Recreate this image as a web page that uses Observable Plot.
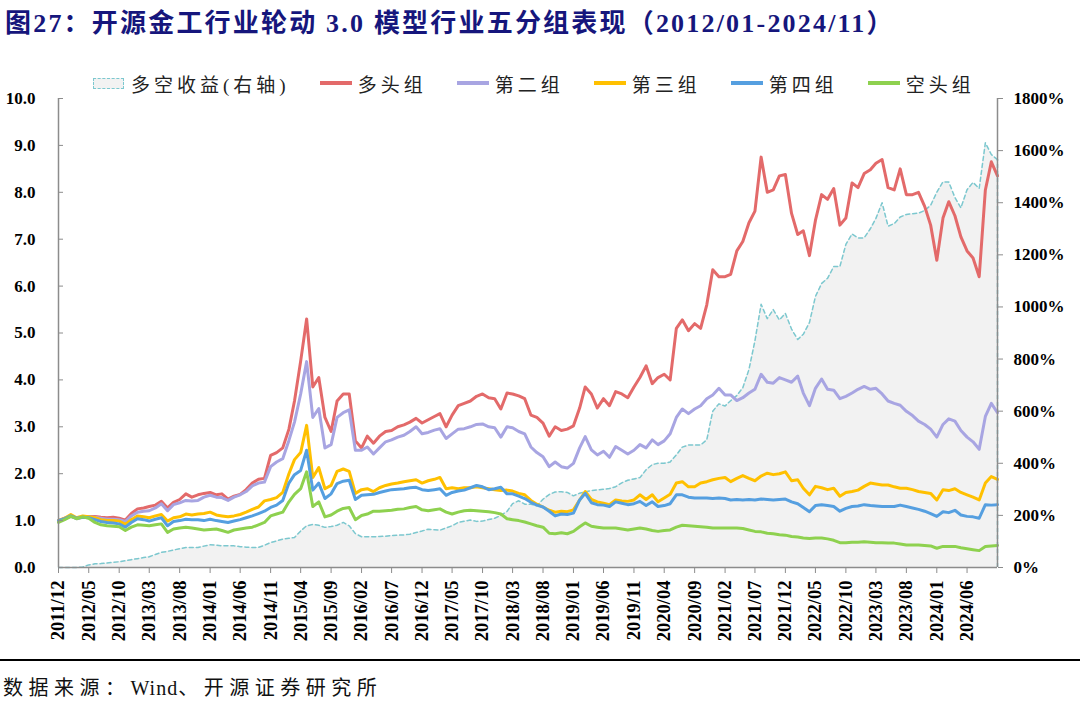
<!DOCTYPE html>
<html><head><meta charset="utf-8">
<script src="https://cdn.jsdelivr.net/npm/d3@7"></script>
<script src="https://cdn.jsdelivr.net/npm/@observablehq/plot@0.6"></script>
<style>
body{margin:0;background:#fff;width:1080px;height:703px;position:relative;overflow:hidden;font-family:"Liberation Serif","Noto Sans CJK SC",serif;}
#title{position:absolute;left:5px;top:2px;font-size:26px;letter-spacing:2.2px;font-weight:bold;color:#16167c;white-space:nowrap;}
#legend{position:absolute;left:93px;top:70px;height:26px;display:flex;align-items:center;font-family:"Liberation Serif","Noto Sans CJK SC",serif;font-size:19px;letter-spacing:4px;color:#222;white-space:nowrap;}
.item{display:flex;align-items:center;margin-right:30px;}
.sw{width:32px;height:4px;margin-right:6px;}
.swd{width:29px;height:9px;margin-right:7px;background:#f2f2f2;border:1.5px dashed #7cc8cf;}
#chart{position:absolute;left:0;top:40px;}
#rule{position:absolute;left:0;top:659px;width:1080px;height:2px;background:#000;}
#source{position:absolute;left:3px;top:672px;font-size:20px;letter-spacing:5.5px;color:#111;white-space:nowrap;}
#source .en{letter-spacing:1px;}
</style></head>
<body>
<div id="title">图27：开源金工行业轮动 3.0 模型行业五分组表现（2012/01-2024/11）</div>
<div id="legend"></div>
<div id="chart"></div>
<div id="rule"></div>
<div id="source">数据来源：<span class="en">Wind</span>、开源证券研究所</div>
<script>
// Month categories: 2011/12 ... 2024/11 (156 months)
const startMonth = "2011-12";
const endMonth = "2024-11";
const xTickLabels = ["2011/12","2012/05","2012/10","2013/03","2013/08","2014/01","2014/06","2014/11","2015/04","2015/09","2016/02","2016/07","2016/12","2017/05","2017/10","2018/03","2018/08","2019/01","2019/06","2019/11","2020/04","2020/09","2021/02","2021/07","2021/12","2022/05","2022/10","2023/03","2023/08","2024/01","2024/06"];
const leftTicks = [0,1,2,3,4,5,6,7,8,9,10];
const rightTicks = [0,200,400,600,800,1000,1200,1400,1600,1800];

const seriesNames = ["多头组","第二组","第三组","第四组","空头组"];
const seriesColors = ["#e36a6a","#a8a5e2","#ffc000","#559fe0","#8ed14f"];
const longShortName = "多空收益(右轴)";

const group1 = [1.00,1.05,1.10,1.05,1.08,1.08,1.09,1.07,1.06,1.07,
1.05,1.01,1.15,1.25,1.27,1.30,1.33,1.41,1.27,1.39,
1.45,1.57,1.50,1.55,1.58,1.60,1.55,1.57,1.46,1.52,
1.56,1.66,1.80,1.88,1.90,2.39,2.45,2.55,2.95,3.55,
4.40,5.30,3.85,4.05,3.20,2.90,3.55,3.70,3.70,2.70,
2.55,2.80,2.65,2.80,2.90,2.92,3.00,3.04,3.10,3.18,
3.08,3.15,3.22,3.28,3.00,3.25,3.45,3.50,3.55,3.65,
3.70,3.62,3.60,3.38,3.72,3.70,3.66,3.60,3.25,3.20,
3.08,2.80,3.00,2.92,2.95,3.02,3.40,3.85,3.70,3.40,
3.60,3.45,3.75,3.70,3.62,3.85,4.05,4.30,3.92,4.05,
4.12,4.00,5.10,5.28,5.05,5.20,5.10,5.60,6.35,6.20,
6.20,6.25,6.75,6.95,7.35,7.60,8.75,8.00,8.05,8.35,
8.38,7.55,7.10,7.18,6.65,7.40,7.95,7.85,8.08,7.30,
7.45,8.20,8.10,8.40,8.48,8.62,8.70,8.10,8.05,8.50,
7.95,7.95,8.00,7.70,7.30,6.55,7.45,7.80,7.50,7.05,
6.75,6.60,6.20,8.05,8.65,8.35];
const group2 = [1.00,1.04,1.09,1.04,1.07,1.07,1.07,1.05,1.03,1.03,
1.02,0.98,1.10,1.18,1.20,1.21,1.27,1.36,1.21,1.34,
1.38,1.43,1.42,1.43,1.50,1.54,1.50,1.49,1.43,1.50,
1.55,1.62,1.74,1.80,1.82,2.15,2.25,2.32,2.71,3.10,
3.70,4.39,3.20,3.39,2.55,2.62,3.20,3.30,3.36,2.50,
2.50,2.57,2.42,2.55,2.68,2.72,2.78,2.82,2.90,3.00,
2.85,2.88,2.93,2.96,2.75,2.85,2.95,2.96,3.00,3.05,
3.06,3.00,2.98,2.78,3.00,2.98,2.90,2.85,2.57,2.45,
2.36,2.15,2.25,2.15,2.12,2.22,2.55,2.79,2.51,2.40,
2.48,2.35,2.58,2.50,2.42,2.50,2.62,2.55,2.72,2.62,
2.70,2.85,3.20,3.38,3.28,3.38,3.45,3.60,3.68,3.82,
3.68,3.68,3.56,3.62,3.72,3.80,4.12,3.95,3.93,4.05,
4.00,3.95,4.08,3.72,3.45,3.82,4.02,3.80,3.78,3.60,
3.65,3.72,3.80,3.86,3.80,3.82,3.70,3.55,3.50,3.46,
3.33,3.24,3.12,3.05,2.95,2.78,3.05,3.17,3.12,2.92,
2.78,2.68,2.52,3.22,3.50,3.30];
const group3 = [1.00,1.05,1.13,1.06,1.10,1.08,1.06,1.02,1.00,1.00,
0.99,0.92,1.02,1.10,1.08,1.06,1.10,1.13,0.99,1.06,
1.08,1.14,1.12,1.14,1.15,1.18,1.12,1.10,1.08,1.10,
1.13,1.18,1.24,1.29,1.42,1.45,1.49,1.60,2.00,2.30,
2.45,3.03,1.92,2.13,1.68,1.75,2.05,2.10,2.05,1.58,
1.66,1.68,1.62,1.70,1.75,1.78,1.80,1.83,1.85,1.87,
1.80,1.85,1.88,1.92,1.68,1.70,1.68,1.70,1.70,1.72,
1.70,1.68,1.66,1.64,1.65,1.63,1.58,1.55,1.43,1.35,
1.29,1.22,1.18,1.20,1.19,1.23,1.44,1.62,1.45,1.40,
1.37,1.34,1.44,1.42,1.41,1.44,1.55,1.45,1.55,1.40,
1.48,1.56,1.80,1.83,1.72,1.72,1.80,1.83,1.87,1.90,
1.92,1.83,1.90,1.96,1.90,1.85,1.95,2.01,1.98,2.00,
2.04,1.85,1.87,1.69,1.55,1.73,1.70,1.66,1.69,1.52,
1.60,1.62,1.65,1.73,1.80,1.78,1.76,1.76,1.72,1.69,
1.69,1.66,1.62,1.60,1.58,1.44,1.66,1.64,1.68,1.60,
1.55,1.50,1.44,1.80,1.94,1.88];
const group4 = [1.00,1.04,1.10,1.05,1.07,1.06,1.02,0.98,0.96,0.95,
0.93,0.86,0.96,1.04,1.02,0.99,1.03,1.06,0.89,0.98,
1.00,1.03,1.02,1.02,1.00,1.03,1.00,0.98,0.96,0.99,
1.02,1.06,1.10,1.15,1.20,1.28,1.33,1.43,1.80,1.98,
2.07,2.50,1.65,1.80,1.47,1.57,1.79,1.84,1.86,1.45,
1.54,1.55,1.56,1.60,1.63,1.66,1.67,1.68,1.70,1.71,
1.66,1.64,1.66,1.68,1.54,1.60,1.63,1.65,1.70,1.75,
1.72,1.66,1.68,1.71,1.57,1.57,1.52,1.47,1.39,1.33,
1.29,1.20,1.10,1.14,1.13,1.16,1.44,1.58,1.38,1.34,
1.33,1.30,1.40,1.37,1.34,1.36,1.41,1.32,1.40,1.30,
1.32,1.36,1.55,1.55,1.50,1.48,1.48,1.48,1.47,1.48,
1.47,1.44,1.45,1.44,1.45,1.44,1.46,1.45,1.44,1.45,
1.46,1.40,1.36,1.28,1.19,1.32,1.34,1.32,1.30,1.20,
1.26,1.30,1.31,1.34,1.32,1.31,1.30,1.30,1.30,1.33,
1.30,1.27,1.24,1.20,1.15,1.09,1.19,1.17,1.22,1.12,
1.09,1.08,1.05,1.34,1.33,1.34];
const group5 = [0.96,1.02,1.09,1.04,1.08,1.05,0.96,0.91,0.89,0.88,
0.87,0.79,0.86,0.91,0.90,0.89,0.91,0.93,0.75,0.82,
0.84,0.86,0.84,0.82,0.80,0.81,0.82,0.79,0.75,0.80,
0.82,0.84,0.86,0.91,0.96,1.10,1.14,1.18,1.40,1.56,
1.68,2.04,1.30,1.40,1.08,1.12,1.20,1.26,1.28,1.02,
1.11,1.14,1.20,1.20,1.21,1.22,1.24,1.25,1.28,1.30,
1.23,1.21,1.23,1.25,1.18,1.14,1.18,1.21,1.22,1.21,
1.20,1.19,1.17,1.14,1.04,1.02,1.00,0.97,0.93,0.89,
0.86,0.73,0.72,0.74,0.72,0.77,0.87,0.95,0.88,0.86,
0.84,0.84,0.84,0.82,0.80,0.82,0.84,0.82,0.79,0.77,
0.79,0.80,0.86,0.90,0.89,0.88,0.87,0.86,0.84,0.84,
0.84,0.84,0.84,0.83,0.80,0.77,0.76,0.73,0.72,0.70,
0.69,0.66,0.65,0.63,0.62,0.63,0.63,0.61,0.58,0.53,
0.53,0.54,0.54,0.55,0.54,0.53,0.53,0.52,0.52,0.50,
0.48,0.48,0.48,0.47,0.46,0.41,0.45,0.45,0.45,0.42,
0.40,0.38,0.36,0.45,0.46,0.47];
// long-short return, % (right axis)
const longShortPct = [0,0,0,0,2,10,14,15,17,20,
22,26,30,34,38,41,50,58,62,67,
72,77,77,77,82,87,86,83,83,83,
80,78,77,77,85,96,102,109,112,115,
140,160,165,162,154,157,162,173,160,130,
118,118,118,119,120,123,124,125,128,134,
140,147,145,143,152,160,173,178,182,177,
178,184,189,200,215,245,256,243,243,237,
262,280,290,291,288,275,285,291,295,298,
300,303,310,325,335,340,345,375,395,400,
400,405,432,462,470,470,470,490,600,628,
620,640,660,690,760,870,1010,955,990,950,
975,915,875,895,940,1040,1090,1110,1155,1155,
1240,1280,1265,1265,1300,1340,1400,1310,1320,1345,
1355,1358,1360,1370,1390,1440,1480,1480,1420,1380,
1450,1478,1455,1630,1585,1565];

const parseYM = d3.utcParse("%Y-%m");
const parseTick = d3.utcParse("%Y/%m");
const t0 = parseYM(startMonth), t1 = parseYM(endMonth);
const months = d3.utcMonth.range(t0, d3.utcMonth.offset(t1, 1));
const groups = [group1, group2, group3, group4, group5];
const rows = [];
groups.forEach((arr, i) => arr.forEach((v, j) => rows.push({date: months[j], series: seriesNames[i], value: v})));
const ratio = 1800 / 10; // right axis % per left-axis unit
const ls = longShortPct.map((p, j) => ({date: months[j], v: p / ratio}));
const lsLast = ls[ls.length - 1];
const tickDates = xTickLabels.map(parseTick);
const axisGray = "#8c8c8c";
const lsColor = "#7cc8cf";

const chart = Plot.plot({
  width: 1080, height: 620,
  marginLeft: 58, marginRight: 83, marginTop: 58, marginBottom: 93,
  style: {fontFamily: "Liberation Serif, serif", fontSize: "17px", fontWeight: "bold", color: "#000", background: "transparent", overflow: "visible"},
  x: {type: "utc", domain: [t0, t1]},
  y: {domain: [0, 10]},
  color: {domain: seriesNames, range: seriesColors},
  marks: [
    Plot.areaY(ls, {x: "date", y: "v", fill: "#f2f2f2"}),
    Plot.lineY(ls, {x: "date", y: "v", stroke: lsColor, strokeWidth: 1.5, strokeDasharray: "4,3"}),
    Plot.ruleX([lsLast], {x: "date", y1: 0, y2: "v", stroke: lsColor, strokeWidth: 1.5, strokeDasharray: "4,3"}),
    Plot.line(rows, {x: "date", y: "value", z: "series", stroke: "series", strokeWidth: 3, strokeLinejoin: "round"}),
    Plot.ruleX([t0], {stroke: axisGray, strokeWidth: 1.5}),
    Plot.ruleX([t1], {stroke: axisGray, strokeWidth: 1.5}),
    Plot.ruleY([0], {stroke: axisGray, strokeWidth: 1.5}),
    Plot.axisY(leftTicks, {anchor: "left", label: null, tickFormat: d3.format(".1f"), tickSize: -5, tickPadding: 28, stroke: axisGray, fill: "#000"}),
    Plot.axisY(rightTicks.map(p => p / ratio), {anchor: "right", label: null, tickFormat: d => Math.round(d * ratio) + "%", tickSize: 5, tickPadding: 11, textAnchor: "start", stroke: axisGray, fill: "#000"}),
    Plot.axisX(tickDates, {anchor: "bottom", label: null, tickFormat: d3.utcFormat("%Y/%m"), tickRotate: -90, tickSize: 6, tickPadding: 7, fontSize: 18.5, stroke: axisGray, fill: "#000"})
  ]
});
document.getElementById("chart").appendChild(chart);

// legend
const legend = document.getElementById("legend");
const mk = (swClass, color, text) => {
  const it = document.createElement("div"); it.className = "item";
  const sw = document.createElement("div"); sw.className = swClass; if (color) sw.style.background = color;
  const tx = document.createElement("span"); tx.textContent = text;
  it.appendChild(sw); it.appendChild(tx); legend.appendChild(it);
};
mk("swd", null, longShortName);
seriesNames.forEach((n, i) => mk("sw", seriesColors[i], n));
</script>
</body></html>
